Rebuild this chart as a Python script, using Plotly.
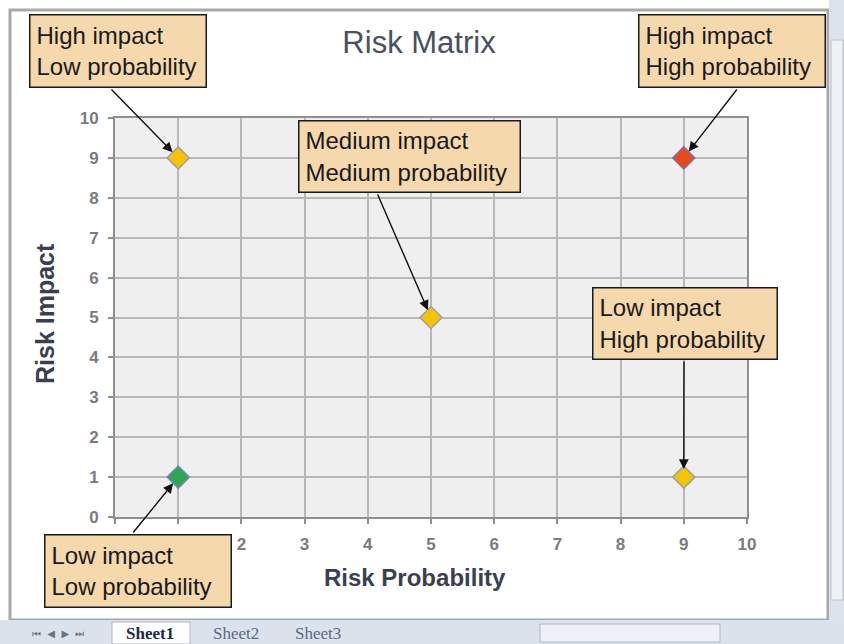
import plotly.graph_objects as go

# ---- data ----
risk_probability = [1, 9, 5, 9, 1]
risk_impact = [9, 9, 5, 1, 1]
point_colors = ["#f5c400", "#e8491d", "#f5c400", "#f5c400", "#2ea84e"]
point_outlines = ["#a0a0a8", "#8a6a9a", "#a0a0a8", "#a0a0a8", "#6a8ab0"]
labels = [
    "High impact<br>Low probability",
    "High impact<br>High probability",
    "Medium impact<br>Medium probability",
    "Low impact<br>High probability",
    "Low impact<br>Low probability",
]
tick_vals = list(range(0, 11))
sheet_names = ["Sheet1", "Sheet2", "Sheet3"]

W, H = 844, 644
L, R, T, B = 115, 97, 118, 127
PW, PH = W - L - R, H - T - B


def pxx(p):
    return (p - L) / PW


def pyy(p):
    return (H - B - p) / PH


fig = go.Figure()
fig.add_trace(go.Scatter(
    x=risk_probability, y=risk_impact, mode="markers",
    marker=dict(symbol="diamond", size=17, color=point_colors,
                line=dict(color=point_outlines, width=1.5)),
    hoverinfo="skip", showlegend=False,
))

font_ui = "Liberation Sans, Arial, sans-serif"

# box geometry (left, top, right, bottom) in pixels; arrow tail in pixels
boxes = [
    (29, 14, 207, 88),
    (638, 14, 826, 88),
    (298, 120, 521, 193),
    (592, 287, 778, 360),
    (44, 534, 232, 608),
]
tails = [(110, 88), (738, 88), (377, 193), (684, 360), (132, 534)]

annotations = []

# axis titles (placed like the reference)
annotations.append(dict(
    xref="paper", yref="paper", x=pxx(415), y=pyy(577), showarrow=False,
    text="<b>Risk Probability</b>", xanchor="center", yanchor="middle",
    font=dict(family=font_ui, size=24, color="#3a4050"),
))
annotations.append(dict(
    xref="paper", yref="paper", x=pxx(45), y=pyy(314), showarrow=False,
    text="<b>Risk Impact</b>", textangle=-90, xanchor="center", yanchor="middle",
    font=dict(family=font_ui, size=25, color="#3a4050"),
))

for (x0, y0, x1, y1), txt in zip(boxes, labels):
    bp, bw = 6, 1.5
    annotations.append(dict(
        xref="paper", yref="paper", x=pxx(x0), y=pyy(y0),
        xanchor="left", yanchor="top", showarrow=False,
        text=txt, align="left", valign="middle",
        width=(x1 - x0) - 2 * bp - 2 * bw, height=(y1 - y0) - 2 * bp - 2 * bw,
        bgcolor="#f6d8ad", bordercolor="#1a1a1a", borderwidth=bw, borderpad=bp,
        font=dict(family=font_ui, size=24, color="#1a1a1a"),
    ))

# arrows from boxes to points
for px_, py_, (tx, ty) in zip(risk_probability, risk_impact, tails):
    hx = L + px_ * PW / 10
    hy = T + (10 - py_) * PH / 10
    annotations.append(dict(
        x=px_, y=py_, xref="x", yref="y", text="",
        showarrow=True, ax=tx - hx, ay=ty - hy,
        arrowhead=2, arrowsize=1.4, arrowwidth=1.4, arrowcolor="#111111",
        standoff=8,
    ))

# sheet tabs text
for name, xc, bold in zip(sheet_names, [150, 236, 318], [True, False, False]):
    annotations.append(dict(
        xref="paper", yref="paper", x=pxx(xc), y=pyy(633), showarrow=False,
        text=("<b>%s</b>" % name) if bold else name,
        font=dict(family="Liberation Serif, Times New Roman, serif", size=17,
                  color="#222a44" if bold else "#5a6a8a"),
        xanchor="center", yanchor="middle",
    ))
annotations.append(dict(
    xref="paper", yref="paper", x=pxx(58), y=pyy(633), showarrow=False,
    text="⏮  ◀  ▶  ⏭", font=dict(family="DejaVu Sans", size=10, color="#6a7488"),
    xanchor="center", yanchor="middle",
))

shapes = [
    # outer window frame
    dict(type="rect", xref="paper", yref="paper", x0=pxx(10), x1=pxx(828), y0=pyy(620), y1=pyy(10),
         line=dict(color="#a8a8a8", width=3), fillcolor="rgba(0,0,0,0)", layer="below"),
    # right scrollbar
    dict(type="rect", xref="paper", yref="paper", x0=pxx(829), x1=pxx(844), y0=pyy(620), y1=pyy(0),
         line=dict(width=0), fillcolor="#dde3ec", layer="below"),
    dict(type="rect", xref="paper", yref="paper", x0=pxx(831), x1=pxx(843), y0=pyy(600), y1=pyy(40),
         line=dict(color="#b8c0cc", width=1), fillcolor="#eef1f5", layer="below"),
    # bottom tab bar
    dict(type="rect", xref="paper", yref="paper", x0=pxx(0), x1=pxx(844), y0=pyy(644), y1=pyy(620),
         line=dict(width=0), fillcolor="#dbe2ec", layer="below"),
    dict(type="rect", xref="paper", yref="paper", x0=pxx(540), x1=pxx(720), y0=pyy(642), y1=pyy(624),
         line=dict(color="#b0b8c4", width=1), fillcolor="#eef1f5", layer="below"),
    dict(type="rect", xref="paper", yref="paper", x0=pxx(112), x1=pxx(190), y0=pyy(644), y1=pyy(622),
         line=dict(color="#b0b8c4", width=1), fillcolor="#ffffff", layer="below"),
]

axis_common = dict(
    range=[0, 10], tickmode="array", tickvals=tick_vals,
    showgrid=True, gridcolor="#b8b8bc", gridwidth=2,
    showline=True, linecolor="#909094", linewidth=2, mirror=True,
    ticks="outside", ticklen=5, tickwidth=2, tickcolor="#909094",
    ticklabelstandoff=6,
    tickfont=dict(family=font_ui, size=17, color="#7a7a80", weight="bold"),
    zeroline=False, fixedrange=True,
)

fig.update_layout(
    width=W, height=H,
    margin=dict(l=L, r=R, t=T, b=B, pad=0),
    paper_bgcolor="white", plot_bgcolor="#efefef",
    title=dict(text="Risk Matrix", xref="container", yref="container",
               x=419 / W, xanchor="center", y=1 - 42 / H, yanchor="middle",
               font=dict(family=font_ui, size=31, color="#4a505e")),
    xaxis=axis_common,
    yaxis=axis_common,
    annotations=annotations,
    shapes=shapes,
)

fig.write_html("out.html", config={"displayModeBar": False},
               post_script="document.body.style.margin='0';document.body.style.overflow='hidden';")
